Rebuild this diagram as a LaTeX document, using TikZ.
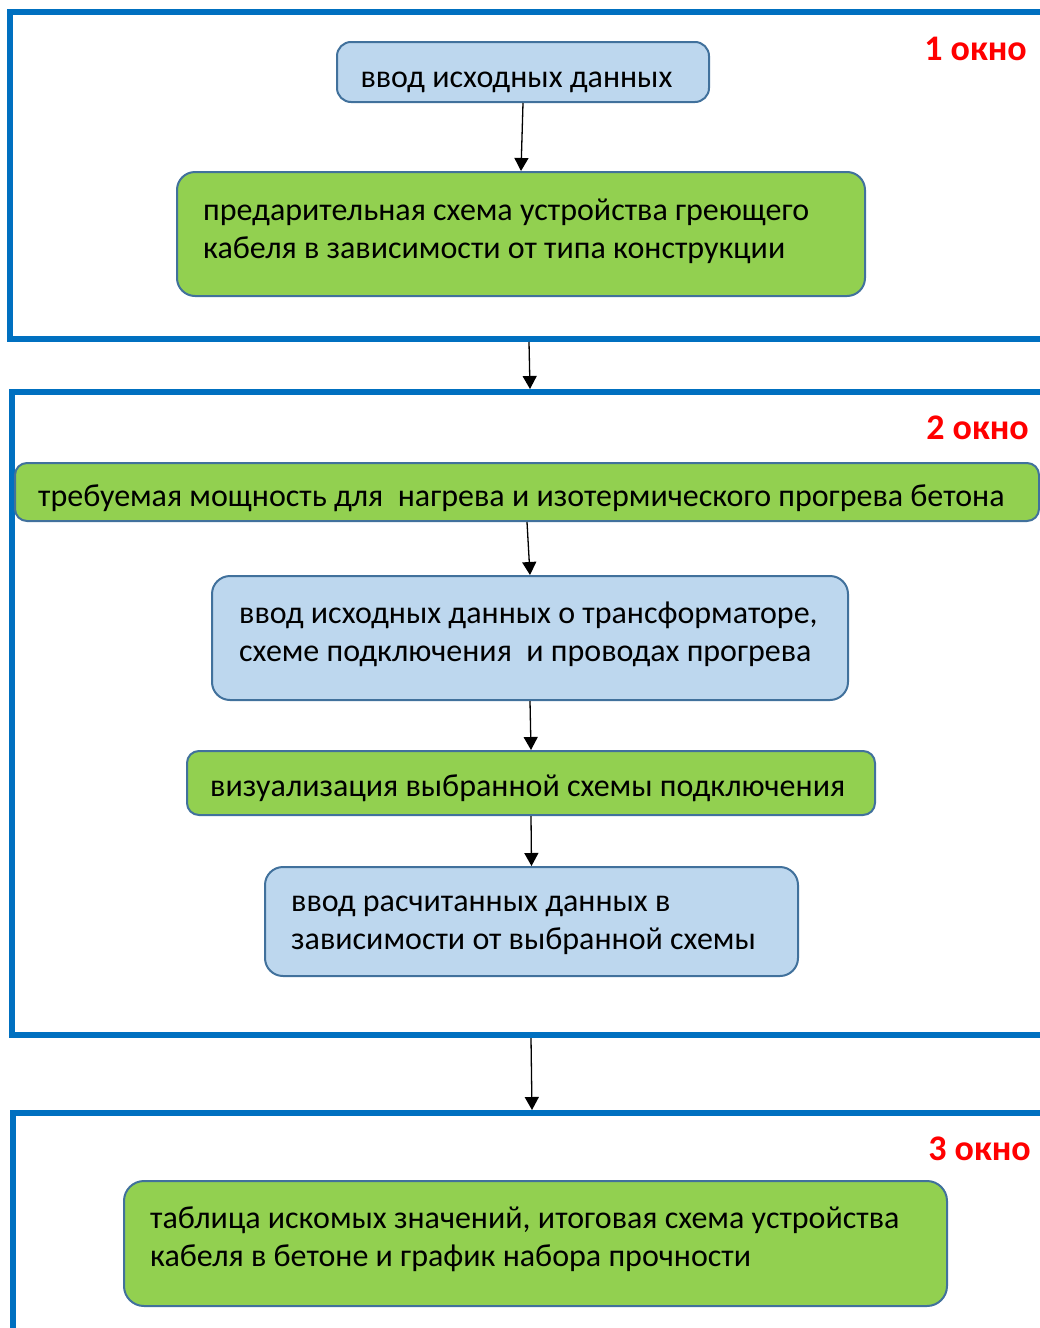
\documentclass[tikz,border=0pt]{standalone}
\usepackage{fontspec}
\setmainfont{Carlito}
\usetikzlibrary{arrows.meta}
\definecolor{frameblue}{HTML}{0070C0}
\definecolor{boxblue}{HTML}{BDD7EE}
\definecolor{boxgreen}{HTML}{92D050}
\definecolor{boxedge}{HTML}{41719C}
\definecolor{winred}{HTML}{FF0000}
\tikzset{
  frame/.style={draw=frameblue, line width=6pt},
  box/.style={draw=boxedge, line width=2pt, rounded corners=14pt, inner sep=0pt},
  bluebox/.style={box, fill=boxblue},
  greenbox/.style={box, fill=boxgreen},
  txt/.style={inner sep=0pt, anchor=west, align=left, font=\fontsize{32}{38}\selectfont},
  win/.style={inner sep=0pt, anchor=east, text=winred, font=\fontsize{36}{40}\selectfont\bfseries},
  arr/.style={draw=black, line width=1.3pt, -{Triangle[width=14pt,length=13pt]}}
}
\begin{document}
\begin{tikzpicture}[x=1pt,y=-1pt]
\useasboundingbox (0,0) rectangle (1040,1328);
\begin{scope}
\clip (0,0) rectangle (1040,1328);
\draw[frame] (10,12) rectangle (1070,339);
\draw[frame] (11.5,392) rectangle (1070,1035);
\draw[frame] (13,1113) rectangle (1070,1400);
\end{scope}
% window labels
\node[win] (w1) at (1027,49) {1 окно};
\node[win] (w2) at (1029,428) {2 окно};
\node[win] (w3) at (1031,1149) {3 окно};
% boxes
\node[bluebox, minimum width=372pt, minimum height=60pt] (b1) at (523,72) {};
\node[txt, anchor=center] (t1) at (516.5,82) {ввод исходных данных};
\node[greenbox, minimum width=688pt, minimum height=124pt, rounded corners=18pt] (b2) at (521,234) {};
\node[txt] (t2) at (203,231) {предарительная схема устройства греющего\\кабеля в зависимости от типа конструкции};
\node[greenbox, minimum width=1024pt, minimum height=58pt, rounded corners=12pt] (b3) at (527,492) {};
\node[txt] (t3) at (38,498) {требуемая мощность для\ \ нагрева и изотермического прогрева бетона};
\node[bluebox, minimum width=636pt, minimum height=124pt, rounded corners=18pt] (b4) at (530,638) {};
\node[txt] (t4) at (239,634) {ввод исходных данных о трансформаторе,\\схеме подключения\ \ и проводах прогрева};
\node[greenbox, minimum width=688pt, minimum height=64pt, rounded corners=12pt] (b5) at (531,783) {};
\node[txt] (t5) at (210,788) {визуализация выбранной схемы подключения};
\node[bluebox, minimum width=533pt, minimum height=109pt, rounded corners=18pt] (b6) at (531.5,921.5) {};
\node[txt] (t6) at (291,925) {ввод расчитанных данных в\\зависимости от выбранной схемы};
\node[greenbox, minimum width=823pt, minimum height=125pt, rounded corners=20pt] (b7) at (535.5,1243.5) {};
\node[txt] (t7) at (150,1239) {таблица искомых значений, итоговая схема устройства\\кабеля в бетоне и график набора прочности};
% frame connection points
\coordinate (f1out) at (529,342);
\coordinate (f2in) at (530,389);
\coordinate (f2out) at (531,1038);
\coordinate (f3in) at (532,1110);
% arrows
\draw[arr] (b1.south) -- (b2.north);
\draw[arr] (f1out) -- (f2in);
\draw[arr] (b3.south) -- (b4.north);
\draw[arr] (b4.south) -- (b5.north);
\draw[arr] (b5.south) -- (b6.north);
\draw[arr] (f2out) -- (f3in);
\end{tikzpicture}
\end{document}
